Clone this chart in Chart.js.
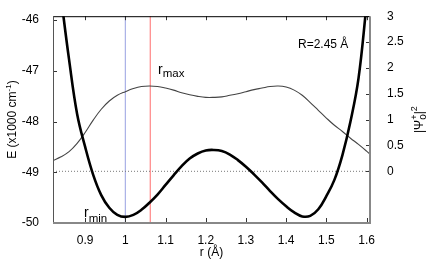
<!DOCTYPE html>
<html>
<head>
<meta charset="utf-8">
<script src="https://cdn.jsdelivr.net/npm/chart.js@4.4.0/dist/chart.umd.min.js"></script>
<style>
  body { margin: 0; background: #fff; }
  #wrap { width: 436px; height: 262px; }
</style>
</head>
<body>
<div id="wrap"><canvas id="grafico" width="436" height="262"></canvas></div>
<script>
// curva di energia (asse sinistro, x1000 cm-1)
var rEnergia = [0.84, 0.86, 0.88, 0.90, 0.92, 0.94, 0.96, 0.98, 1.00, 1.02, 1.04, 1.06, 1.08, 1.10,
  1.12, 1.14, 1.16, 1.18, 1.20, 1.22, 1.24, 1.26, 1.28, 1.30, 1.32, 1.34, 1.36, 1.38, 1.40,
  1.42, 1.44, 1.46, 1.48, 1.50, 1.52, 1.54, 1.56, 1.58, 1.60];
var energia = [-45.55, -46.78, -47.85, -48.50, -49.05, -49.45, -49.70, -49.84, -49.88, -49.84, -49.74, -49.60, -49.44, -49.25,
  -49.06, -48.88, -48.73, -48.63, -48.57, -48.56, -48.58, -48.65, -48.76, -48.89, -49.04, -49.20, -49.37, -49.53, -49.67,
  -49.79, -49.87, -49.86, -49.73, -49.47, -49.15, -48.66, -48.00, -47.15, -45.70];

// |psi|^2 (asse destro)
var rPsi = [0.82, 0.84, 0.86, 0.88, 0.90, 0.92, 0.94, 0.96, 0.98, 1.00, 1.02, 1.04, 1.06, 1.08, 1.10,
  1.12, 1.14, 1.16, 1.18, 1.20, 1.22, 1.24, 1.26, 1.28, 1.30, 1.32, 1.34, 1.36, 1.38, 1.40,
  1.42, 1.44, 1.46, 1.48, 1.50, 1.52, 1.54, 1.56, 1.58, 1.60, 1.61];
var psi = [0.21, 0.28, 0.38, 0.54, 0.75, 0.99, 1.20, 1.36, 1.47, 1.54, 1.60, 1.64, 1.65, 1.64, 1.61,
  1.57, 1.52, 1.48, 1.45, 1.43, 1.43, 1.44, 1.47, 1.50, 1.54, 1.58, 1.61, 1.64, 1.65, 1.63,
  1.57, 1.47, 1.33, 1.18, 1.03, 0.89, 0.77, 0.64, 0.52, 0.39, 0.32];

// linee di riferimento
var rMin = 1.0;
var rMax = 1.062;
var livelloZero = 0;

// tick
var ticksX = [0.9, 1, 1.1, 1.2, 1.3, 1.4, 1.5, 1.6];
var ticksE = [-50, -49, -48, -47, -46];
var ticksPsi = [0, 0.5, 1, 1.5, 2, 2.5, 3];

var font = '"Liberation Sans", Arial, sans-serif';

function punti(xs, ys) {
  return ys.map(function (y, i) { return { x: xs[i], y: y }; });
}

function formatta(v) { return String(parseFloat(v.toFixed(2))); }

// scrive testo con pezzi in apice/pedice
function scriviPezzi(ctx, pezzi, x, y) {
  var cx = x;
  pezzi.forEach(function (p) {
    ctx.font = p.size + 'px ' + font;
    ctx.fillText(p.t, cx, y + (p.dy || 0));
    if (!p.stay) cx += ctx.measureText(p.t).width;
  });
  return cx;
}
function larghezzaPezzi(ctx, pezzi) {
  var w = 0;
  pezzi.forEach(function (p) {
    ctx.font = p.size + 'px ' + font;
    if (!p.stay) w += ctx.measureText(p.t).width;
  });
  return w;
}

var cornice = {
  id: 'cornice',
  afterDatasetsDraw: function (chart) {
    var ctx = chart.ctx;
    var a = chart.chartArea;
    var sx = chart.scales.x, sl = chart.scales.yE, sr = chart.scales.yPsi;
    ctx.save();
    // tick verso l'interno
    ctx.strokeStyle = '#333';
    ctx.lineWidth = 1;
    ctx.beginPath();
    ticksX.forEach(function (v) {
      var px = Math.round(sx.getPixelForValue(v)) + 0.5;
      ctx.moveTo(px, a.bottom); ctx.lineTo(px, a.bottom - 5);
      ctx.moveTo(px, a.top); ctx.lineTo(px, a.top + 4);
    });
    ticksE.forEach(function (v) {
      var py = Math.round(sl.getPixelForValue(v)) + 0.5;
      ctx.moveTo(a.left, py); ctx.lineTo(a.left + 4, py);
    });
    ticksPsi.forEach(function (v) {
      var py = Math.round(sr.getPixelForValue(v)) + 0.5;
      ctx.moveTo(a.right, py); ctx.lineTo(a.right - 4, py);
    });
    ctx.stroke();
    // cornice
    ctx.strokeStyle = '#000';
    ctx.lineWidth = 1;
    ctx.beginPath(); ctx.moveTo(a.left, a.top + 0.5); ctx.lineTo(a.right, a.top + 0.5); ctx.stroke();
    ctx.strokeStyle = '#555';
    ctx.beginPath(); ctx.moveTo(a.left + 0.5, a.top); ctx.lineTo(a.left + 0.5, a.bottom); ctx.stroke();
    ctx.strokeStyle = '#888';
    ctx.lineWidth = 2;
    ctx.beginPath(); ctx.moveTo(a.left, a.bottom); ctx.lineTo(a.right + 1, a.bottom); ctx.stroke();
    ctx.beginPath(); ctx.moveTo(a.right, a.top); ctx.lineTo(a.right, a.bottom + 1); ctx.stroke();

    // etichette nel grafico
    ctx.fillStyle = '#000';
    ctx.textBaseline = 'alphabetic';
    ctx.textAlign = 'left';
    scriviPezzi(ctx, [{ t: 'r', size: 14 }, { t: 'max', size: 11.5, dy: 3 }], 158, 74);
    scriviPezzi(ctx, [{ t: 'r', size: 14 }, { t: 'min', size: 11.5, dy: 5 }], 84, 217);
    ctx.font = '12px ' + font;
    ctx.fillText('R=2.45 Å', 298, 48);

    // titolo asse sinistro
    var tl = [{ t: 'E (x1000 cm', size: 12 }, { t: '-1', size: 8, dy: -5 }, { t: ')', size: 12 }];
    ctx.save();
    ctx.translate(15.5, (a.top + a.bottom) / 2);
    ctx.rotate(-Math.PI / 2);
    scriviPezzi(ctx, tl, -larghezzaPezzi(ctx, tl) / 2, 0);
    ctx.restore();

    // titolo asse destro
    var tr = [{ t: '|\u03A8', size: 12 }, { t: '+', size: 9, dy: -6, stay: true }, { t: 'o', size: 10, dy: 3 },
      { t: '|', size: 12 }, { t: '2', size: 9, dy: -6 }];
    ctx.save();
    ctx.translate(423, (a.top + a.bottom) / 2);
    ctx.rotate(-Math.PI / 2);
    scriviPezzi(ctx, tr, -larghezzaPezzi(ctx, tr) / 2, 0);
    ctx.restore();
    ctx.restore();
  }
};

var grafico = new Chart(document.getElementById('grafico').getContext('2d'), {
  type: 'line',
  data: {
    datasets: [{
      label: 'E',
      data: punti(rEnergia, energia),
      yAxisID: 'yE',
      borderColor: '#000',
      borderWidth: 2.6,
      pointRadius: 0,
      tension: 0.4
    }, {
      label: '|psi|^2',
      data: punti(rPsi, psi),
      yAxisID: 'yPsi',
      borderColor: '#444',
      borderWidth: 1.1,
      pointRadius: 0,
      tension: 0.4
    }, {
      label: 'zero',
      data: [{ x: 0.82, y: livelloZero }, { x: 1.61, y: livelloZero }],
      yAxisID: 'yPsi',
      borderColor: '#777',
      borderWidth: 1,
      borderDash: [1, 2],
      pointRadius: 0
    }, {
      label: 'rmax',
      data: [{ x: rMax, y: -50 }, { x: rMax, y: -45.9 }],
      yAxisID: 'yE',
      borderColor: '#ff8585',
      borderWidth: 1.2,
      pointRadius: 0
    }, {
      label: 'rmin',
      data: [{ x: rMin, y: -50 }, { x: rMin, y: -45.9 }],
      yAxisID: 'yE',
      borderColor: '#a8b0e6',
      borderWidth: 1.2,
      pointRadius: 0
    }]
  },
  options: {
    responsive: false,
    animation: false,
    parsing: false,
    layout: { padding: { top: 12, right: 0, left: 0, bottom: 0 } },
    plugins: { legend: { display: false }, tooltip: { enabled: false } },
    scales: {
      x: {
        type: 'linear',
        min: 0.82,
        max: 1.6086,
        grid: { display: false },
        border: { display: false },
        afterBuildTicks: function (s) { s.ticks = ticksX.map(function (v) { return { value: v }; }); },
        afterFit: function (s) { s.height = 39; },
        ticks: {
          padding: 2,
          color: '#000',
          font: { family: font, size: 12 },
          maxRotation: 0,
          callback: formatta
        },
        title: { display: true, text: 'r (Å)', color: '#000', font: { family: font, size: 12 }, padding: { top: 0, bottom: 2 } }
      },
      yE: {
        type: 'linear',
        position: 'left',
        min: -50,
        max: -45.923,
        grid: { display: false },
        border: { display: false },
        afterBuildTicks: function (s) { s.ticks = ticksE.map(function (v) { return { value: v }; }); },
        afterFit: function (s) { s.width = 53; },
        ticks: { padding: 6, color: '#000', font: { family: font, size: 12 } }
      },
      yPsi: {
        type: 'linear',
        position: 'right',
        min: -1,
        max: 3,
        grid: { display: false },
        border: { display: false },
        afterBuildTicks: function (s) { s.ticks = ticksPsi.map(function (v) { return { value: v }; }); },
        afterFit: function (s) { s.width = 66; },
        ticks: { padding: 9, color: '#000', font: { family: font, size: 12 }, callback: formatta }
      }
    }
  },
  plugins: [cornice]
});
</script>
</body>
</html>
